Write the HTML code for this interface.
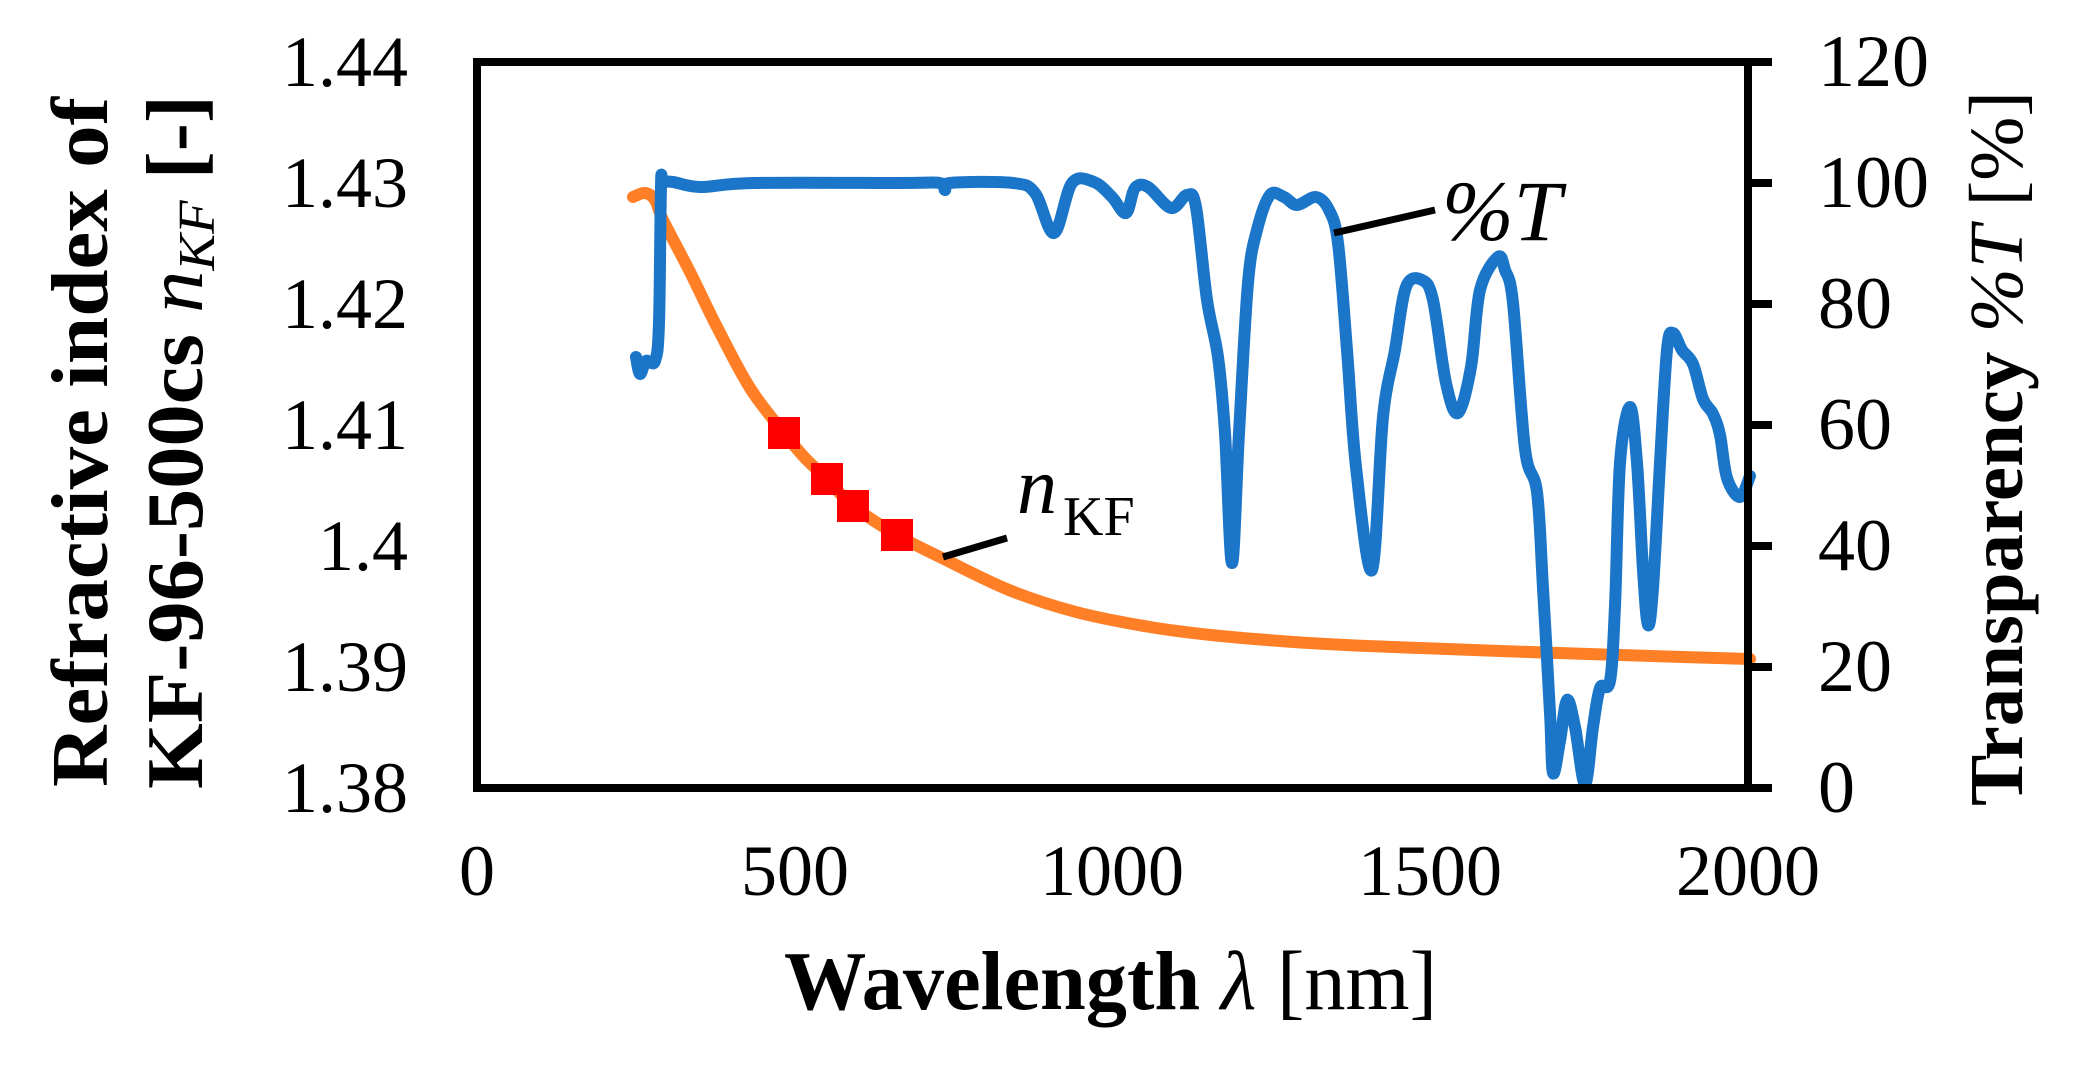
<!DOCTYPE html>
<html><head><meta charset="utf-8"><style>
html,body{margin:0;padding:0;background:#fff;}
svg{display:block;}
text{font-family:"Liberation Serif",serif;fill:#000;}
</style></head><body>
<svg width="2099" height="1089" viewBox="0 0 2099 1089" xmlns="http://www.w3.org/2000/svg">
<path id="orange" fill="none" stroke="#ff7f27" stroke-width="12" stroke-linejoin="round" stroke-linecap="round" d=""/>
<path id="blue" fill="none" stroke="#1b75c9" stroke-width="12" stroke-linejoin="round" stroke-linecap="round" d=""/>
<rect x="768" y="417" width="32" height="32" fill="#ff0000"/>
<rect x="811" y="463" width="32" height="32" fill="#ff0000"/>
<rect x="837" y="490" width="32" height="32" fill="#ff0000"/>
<rect x="881" y="519" width="32" height="32" fill="#ff0000"/>
<rect x="477" y="62" width="1271" height="726" fill="none" stroke="#000" stroke-width="8"/>
<g stroke="#000" stroke-width="8">
<line x1="1748" y1="62" x2="1772" y2="62"/>
<line x1="1748" y1="183" x2="1772" y2="183"/>
<line x1="1748" y1="304" x2="1772" y2="304"/>
<line x1="1748" y1="425" x2="1772" y2="425"/>
<line x1="1748" y1="546" x2="1772" y2="546"/>
<line x1="1748" y1="667" x2="1772" y2="667"/>
<line x1="1748" y1="788" x2="1772" y2="788"/>
</g>
<g font-size="72" text-anchor="end">
<text x="408" y="86">1.44</text>
<text x="408" y="207">1.43</text>
<text x="408" y="328">1.42</text>
<text x="408" y="449">1.41</text>
<text x="408" y="570">1.4</text>
<text x="408" y="691">1.39</text>
<text x="408" y="812">1.38</text>
</g>
<g font-size="74" text-anchor="start">
<text x="1818" y="86">120</text>
<text x="1818" y="207">100</text>
<text x="1818" y="328">80</text>
<text x="1818" y="449">60</text>
<text x="1818" y="570">40</text>
<text x="1818" y="691">20</text>
<text x="1818" y="812">0</text>
</g>
<g font-size="72" text-anchor="middle">
<text x="477" y="895">0</text>
<text x="795" y="895">500</text>
<text x="1112" y="895">1000</text>
<text x="1430" y="895">1500</text>
<text x="1748" y="895">2000</text>
</g>
<text x="784" y="1009" font-size="84" textLength="653" lengthAdjust="spacingAndGlyphs"><tspan font-weight="bold">Wavelength </tspan><tspan font-style="italic">λ</tspan> [nm]</text>
<text transform="translate(107,787) rotate(-90)" font-size="80" font-weight="bold" textLength="690" lengthAdjust="spacingAndGlyphs">Refractive index of</text>
<text transform="translate(202,789) rotate(-90)" font-size="80" textLength="694" lengthAdjust="spacingAndGlyphs"><tspan font-weight="bold">KF-96-500cs </tspan><tspan font-style="italic">n</tspan><tspan font-style="italic" font-size="52" dy="12">KF</tspan><tspan dy="-12"> </tspan><tspan font-weight="bold">[-]</tspan></text>
<text transform="translate(2022,806) rotate(-90)" font-size="76" textLength="715" lengthAdjust="spacingAndGlyphs"><tspan font-weight="bold">Transparency  </tspan><tspan font-style="italic">%T</tspan> [%]</text>
<line x1="1334" y1="233" x2="1435" y2="210" stroke="#000" stroke-width="7"/>
<text x="1442" y="240" font-size="86" font-style="italic">%T</text>
<line x1="943" y1="557" x2="1007" y2="538" stroke="#000" stroke-width="7"/>
<text x="1017" y="513" font-size="80" font-style="italic">n</text>
<text x="1063" y="535" font-size="56">KF</text>
</svg>
<script>
function cr(p){
  var d="M"+p[0][0]+","+p[0][1];
  for(var i=0;i<p.length-1;i++){
    var p0=p[i>0?i-1:0],p1=p[i],p2=p[i+1],p3=p[i+2<p.length?i+2:i+1];
    var t=0.5/3;
    var c1x=p1[0]+(p2[0]-p0[0])*t,c1y=p1[1]+(p2[1]-p0[1])*t;
    var c2x=p2[0]-(p3[0]-p1[0])*t,c2y=p2[1]-(p3[1]-p1[1])*t;
    d+=" C"+c1x.toFixed(1)+","+c1y.toFixed(1)+" "+c2x.toFixed(1)+","+c2y.toFixed(1)+" "+p2[0]+","+p2[1];
  }
  return d;
}
var o=[[633,197],[645,193],[655,200],[663,220],[690,272],[717,327],[750,388],[784,433],[805,458],[827,479],[853,506],[897,535],[942,558],[1009,590],[1076,612],[1150,627],[1211,635],[1280,641],[1346,645],[1420,648],[1500,651],[1620,655],[1750,659]];
var b=[[636,357],[640,374],[646,361],[655,361],[659,323],[661,186],[663,182],[673,182],[700,187],[753,183],[900,183],[940,183],[945,190],[950,183],[1013,183],[1035,193],[1054,233],[1072,183],[1094,182],[1112,197],[1126,213],[1135,188],[1148,187],[1171,208],[1187,195],[1196,207],[1207,300],[1218,357],[1225,433],[1232,563],[1239,433],[1248,283],[1257,230],[1270,195],[1284,197],[1297,205],[1316,197],[1329,210],[1338,243],[1347,350],[1356,467],[1372,570],[1383,417],[1395,350],[1406,287],[1422,280],[1433,300],[1446,383],[1458,413],[1471,367],[1480,290],[1498,257],[1505,270],[1513,303],[1525,449],[1537,492],[1543,588],[1550,713],[1553,773],[1560,741],[1567,700],[1575,727],[1585,784],[1593,727],[1600,688],[1610,681],[1615,606],[1620,463],[1630,407],[1637,463],[1643,570],[1648,625],[1653,588],[1660,463],[1667,350],[1673,333],[1682,350],[1693,364],[1703,399],[1713,414],[1720,435],[1727,478],[1740,497],[1750,476]];
document.getElementById("orange").setAttribute("d",cr(o));
document.getElementById("blue").setAttribute("d",cr(b));
</script>
</body></html>
